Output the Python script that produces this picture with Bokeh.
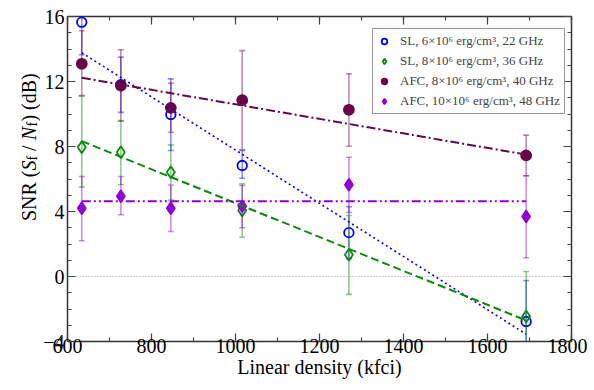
import math
from bokeh.plotting import figure
from bokeh.layouts import row
from bokeh.models import (Range1d, LinearAxis, SingleIntervalTicker, Span, Label,
                          Legend, LegendItem)
from bokeh.embed import file_html
from bokeh.resources import INLINE

# ---------------- data ----------------
x_kfci = [634, 727, 846, 1016, 1270, 1692]

sl6_snr = [15.65, 11.8, 9.97, 6.83, 2.7, -2.77]
sl6_lo = [13.65, 10.1, 7.75, 6.05, 1.1, -5.27]
sl6_hi = [17.65, 13.5, 12.16, 7.75, 4.3, -0.25]
sl6_fit = [13.77, -3.55]

sl8_snr = [7.96, 7.65, 6.42, 4.06, 1.34, -2.46]
sl8_lo = [5.5, 5.65, 4.7, 2.42, -1.1, -5.2]
sl8_hi = [11.1, 9.6, 8.1, 5.7, 3.75, 0.31]
sl8_fit = [8.33, -2.7]

afc8_snr = [13.09, 11.75, 10.38, 10.85, 10.26, 7.45]
afc8_lo = [11.14, 9.55, 8.88, 7.8, 8.02, 6.2]
afc8_hi = [15.12, 13.95, 11.9, 13.9, 12.47, 8.7]
afc8_fit = [12.23, 7.5]

afc10_snr = [4.2, 4.94, 4.2, 4.33, 5.64, 3.69]
afc10_lo = [2.2, 3.8, 2.77, 3.0, 3.94, 1.15]
afc10_hi = [6.15, 6.15, 5.63, 5.6, 7.34, 6.2]
afc10_fit = [4.63, 4.63]

labels = ["SL, 6×10⁶ erg/cm³, 22 GHz",
          "SL, 8×10⁶ erg/cm³, 36 GHz",
          "AFC, 8×10⁶ erg/cm³, 40 GHz",
          "AFC, 10×10⁶ erg/cm³, 48 GHz"]

FONT = "Liberation Serif"
H = 386
LAB_W = 40

p = figure(frame_width=504, frame_height=325,
           x_range=Range1d(600, 1800), y_range=Range1d(-4, 16),
           output_backend="svg", toolbar_location=None,
           min_border_left=25, min_border_right=16, min_border_top=16,
           min_border_bottom=45)
p.xgrid.visible = False
p.ygrid.visible = False
p.outline_line_color = "#333333"
p.outline_line_width = 1.5
p.background_fill_color = "white"
p.border_fill_color = "white"

bottom = p.xaxis[0]
left = p.yaxis[0]
top = LinearAxis(ticker=SingleIntervalTicker(interval=200, num_minor_ticks=2))
right = LinearAxis(ticker=SingleIntervalTicker(interval=4, num_minor_ticks=4))
p.add_layout(top, "above")
p.add_layout(right, "right")
bottom.ticker = SingleIntervalTicker(interval=200, num_minor_ticks=2)
left.ticker = SingleIntervalTicker(interval=4, num_minor_ticks=4)

for ax, on in [(bottom, True), (left, True), (top, False), (right, False)]:
    ax.axis_line_color = None
    ax.major_tick_in = 8
    ax.major_tick_out = 0
    ax.minor_tick_in = 4
    ax.minor_tick_out = 0
    ax.major_tick_line_color = "#444444"
    ax.minor_tick_line_color = "#444444"
    ax.major_tick_line_width = 1.2
    ax.minor_tick_line_width = 1.2
    ax.major_label_text_font = FONT
    ax.major_label_text_font_style = "normal"
    ax.major_label_text_color = "black"
    ax.major_label_text_font_size = "20px" if on else "0px"
    if not on:
        ax.major_label_text_alpha = 0

bottom.major_label_standoff = -3
left.major_label_standoff = 3
bottom.axis_label = "Linear density (kfci)"
bottom.axis_label_text_font = FONT
bottom.axis_label_text_font_size = "20px"
bottom.axis_label_text_font_style = "normal"
bottom.axis_label_text_color = "black"
bottom.axis_label_standoff = 0

zero = Span(location=0, dimension="width", line_color="#a0a0a0",
            line_dash="1 2", line_width=1, level="underlay")
p.add_layout(zero)

series = [
    (sl6_snr, sl6_lo, sl6_hi, sl6_fit, "#0000ff", "circle", False, "2 3", 1.6),
    (sl8_snr, sl8_lo, sl8_hi, sl8_fit, "#0a8a0a", "diamond", False, "8 4", 2),
    (afc8_snr, afc8_lo, afc8_hi, afc8_fit, "#670748", "circle", True, "9 3 2 3", 2),
    (afc10_snr, afc10_lo, afc10_hi, afc10_fit, "#9400d3", "diamond", True, "9 3 2 3 2 3", 2),
]

items = []
for i, (snr, lo, hi, fit, col, mk, filled, dash, lw) in enumerate(series):
    p.segment(x0=x_kfci, y0=lo, x1=x_kfci, y1=hi, line_color=col,
              line_alpha=0.45, line_width=1.6)
    p.scatter(x=x_kfci, y=lo, marker="dash", size=6, line_color=col,
              line_alpha=0.45, line_width=1.6)
    p.scatter(x=x_kfci, y=hi, marker="dash", size=6, line_color=col,
              line_alpha=0.45, line_width=1.6)
    if mk == "circle":
        r = p.scatter(x=x_kfci, y=snr, marker="circle", size=10 if filled else 9.5,
                      line_color=col, line_width=1.8,
                      fill_color=col if filled else None)
    else:
        r = p.scatter(x=x_kfci, y=snr, marker="diamond",
                      size=12, line_color=col, line_width=1.8,
                      fill_color=col if filled else None)
    items.append(LegendItem(label=labels[i], renderers=[r]))

for (snr, lo, hi, fit, col, mk, filled, dash, lw) in series:
    p.line(x=[x_kfci[0], x_kfci[-1]], y=fit, line_color=col,
           line_dash=dash, line_width=lw)

legend = Legend(items=items, location=(305, 227),
                label_text_font=FONT, label_text_font_size="13px",
                border_line_color="#333333", border_line_width=1,
                background_fill_alpha=1, padding=4, spacing=4,
                glyph_height=16, glyph_width=14, label_height=16,
                label_standoff=9, margin=0)
p.add_layout(legend)

# ---- separate narrow panel holding the rotated y-axis title ----
lab = figure(width=LAB_W, height=H, x_range=Range1d(0, LAB_W),
             y_range=Range1d(0, H), output_backend="svg",
             toolbar_location=None, x_axis_location=None,
             y_axis_location=None, min_border=0)
lab.xgrid.visible = False
lab.ygrid.visible = False
lab.outline_line_color = None
lab.background_fill_color = "white"
lab.border_fill_color = "white"

pieces = [
    ("SNR (", "normal", "20px", 0.0, 0),
    ("S", "italic", "20px", 50.5, 0),
    ("f", "normal", "14px", 60.5, 4),
    ("/", "normal", "20px", 70.0, 0),
    ("N", "italic", "20px", 80.8, 0),
    ("f", "normal", "14px", 94.5, 4),
    (") (dB)", "normal", "20px", 99.5, 0),
]
for txt, style, size, off, sub in pieces:
    lab.add_layout(Label(x=28, y=H - 243, x_offset=sub, y_offset=off, text=txt,
                         angle=math.pi / 2, text_font=FONT,
                         text_font_size=size, text_font_style=style,
                         text_align="left", text_baseline="alphabetic",
                         text_color="black"))

layout = row(lab, p, spacing=0)
open("out.html", "w").write(file_html(layout, INLINE))
